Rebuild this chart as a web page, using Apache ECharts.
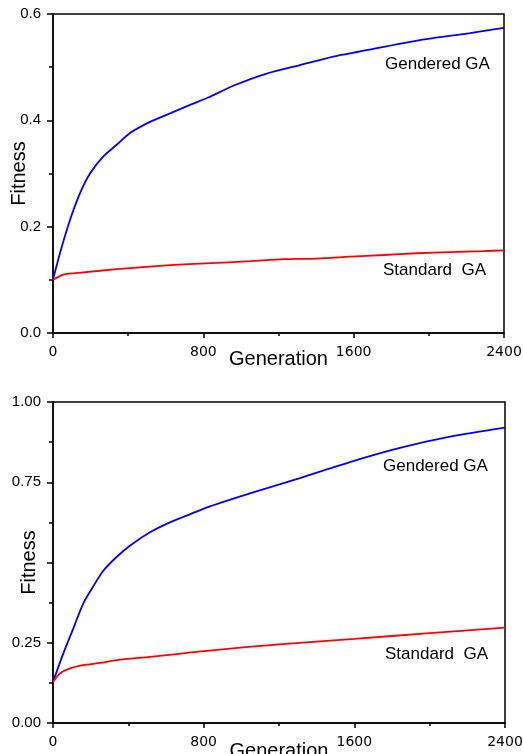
<!DOCTYPE html>
<html>
<head>
<meta charset="utf-8">
<script src="https://cdn.jsdelivr.net/npm/echarts@6/dist/echarts.min.js"></script>
<style>
html,body{margin:0;padding:0;background:#fff;}
#main{width:523px;height:754px;}
</style>
</head>
<body>
<div id="main"></div>
<script>
// top panel: generation / fitness
var topGenderedGen = [0, 37, 90, 144, 197, 268, 339, 410, 516, 623, 729, 826, 959, 1137, 1314, 1491, 1625, 1953, 2219, 2400];
var topGenderedFit = [0.100, 0.150, 0.212, 0.263, 0.300, 0.332, 0.354, 0.376, 0.397, 0.413, 0.429, 0.443, 0.465, 0.488, 0.504, 0.520, 0.529, 0.551, 0.564, 0.574];
var topStandardGen = [0, 55, 161, 339, 516, 693, 871, 1048, 1225, 1403, 1580, 1758, 1935, 2113, 2290, 2400];
var topStandardFit = [0.100, 0.110, 0.114, 0.120, 0.125, 0.129, 0.132, 0.135, 0.139, 0.140, 0.1435, 0.1467, 0.150, 0.152, 0.154, 0.1555];

// bottom panel
var botGenderedGen = [0, 55, 108, 161, 214, 268, 339, 410, 515, 621, 727, 834, 1050, 1311, 1577, 1842, 2108, 2400];
var botGenderedFit = [0.128, 0.217, 0.295, 0.373, 0.426, 0.475, 0.518, 0.553, 0.594, 0.625, 0.650, 0.675, 0.716, 0.763, 0.813, 0.857, 0.892, 0.920];
var botStandardGen = [0, 37, 90, 161, 250, 339, 516, 693, 817, 1200, 1600, 2000, 2400];
var botStandardFit = [0.128, 0.154, 0.170, 0.180, 0.187, 0.196, 0.206, 0.217, 0.225, 0.245, 0.262, 0.280, 0.297];

var xTicks = [0, 800, 1600, 2400];
var topYTicks = [0, 0.2, 0.4, 0.6];
var botYTicks = [0, 0.25, 0.5, 0.75, 1];

var FONT = "'Liberation Sans', Arial, sans-serif";

function pairs(xs, ys){
    var out = [];
    for(var i=0;i<xs.length;i++){
        out.push([xs[i], ys[i]]);
    }
    return out;
}

function xAxisOpt(idx, gap){
    return {
        type: 'value',
        gridIndex: idx,
        min: xTicks[0],
        max: xTicks[xTicks.length-1],
        interval: 800,
        name: 'Generation',
        nameLocation: 'middle',
        nameGap: gap,
        nameMoveOverlap: false,
        nameTextStyle: {color:'#000', fontSize:20, fontFamily:FONT},
        axisLine: {show:true, onZero:false, lineStyle:{color:'#000', width:1.5}},
        axisTick: {show:true, inside:false, length:5, lineStyle:{color:'#000', width:1.5}},
        minorTick: {show:true, splitNumber:2, length:3, lineStyle:{color:'#000', width:1.5}},
        splitLine: {show:false},
        axisLabel: {
            color:'#000', fontSize:14, fontFamily:"'DejaVu Sans', sans-serif", margin:12,
            hideOverlap: false,
            alignMinLabel: 'center',
            alignMaxLabel: 'center',
            formatter: function(v){ return String(v); }
        }
    };
}

function yAxisOpt(idx, ticks, step, digits, gap, hideVal){
    return {
        type: 'value',
        gridIndex: idx,
        min: ticks[0],
        max: ticks[ticks.length-1],
        interval: step,
        name: 'Fitness',
        nameLocation: 'middle',
        nameGap: gap,
        nameRotate: 90,
        nameMoveOverlap: false,
        nameTextStyle: {color:'#000', fontSize:20, fontFamily:FONT},
        axisLine: {show:true, lineStyle:{color:'#000', width:1.5}},
        axisTick: {show:true, inside:false, length:6, lineStyle:{color:'#000', width:1.5}},
        minorTick: {show:true, splitNumber:2, length:4, lineStyle:{color:'#000', width:1.5}},
        splitLine: {show:false},
        axisLabel: {
            color:'#000', fontSize:15, fontFamily:FONT, margin:12,
            formatter: function(v){
                if(hideVal !== null && Math.abs(v-hideVal) < 1e-9){
                    return '';
                }
                return v.toFixed(digits);
            }
        }
    };
}

function lineSeries(xi, yi, data, color){
    return {
        type: 'line',
        xAxisIndex: xi,
        yAxisIndex: yi,
        data: data,
        showSymbol: false,
        smooth: 0.25,
        animation: false,
        lineStyle: {color: color, width: 1.8},
        itemStyle: {color: color}
    };
}

var myChart = echarts.init(document.getElementById('main'));
var option = {
    animation: false,
    backgroundColor: '#fff',
    grid: [
        {left:53, top:14, width:451, height:319, outerBoundsMode:'none', containLabel:false, show:true, borderColor:'#000', borderWidth:1.5, backgroundColor:'transparent'},
        {left:53, top:402, width:452, height:321, outerBoundsMode:'none', containLabel:false, show:true, borderColor:'#000', borderWidth:1.5, backgroundColor:'transparent'}
    ],
    xAxis: [xAxisOpt(0, 16), xAxisOpt(1, 18)],
    yAxis: [
        yAxisOpt(0, topYTicks, 0.2, 1, 24, null),
        yAxisOpt(1, botYTicks, 0.25, 2, 14, 0.5)
    ],
    series: [
        lineSeries(0, 0, pairs(topGenderedGen, topGenderedFit), '#0000ff'),
        lineSeries(0, 0, pairs(topStandardGen, topStandardFit), '#ff0000'),
        lineSeries(1, 1, pairs(botGenderedGen, botGenderedFit), '#0000ff'),
        lineSeries(1, 1, pairs(botStandardGen, botStandardFit), '#ff0000')
    ],
    graphic: [
        {type:'text', left:385, top:56, style:{text:'Gendered GA', fill:'#000', font:'17px ' + FONT}},
        {type:'text', left:383, top:262, style:{text:'Standard  GA', fill:'#000', font:'17px ' + FONT}},
        {type:'text', left:383, top:458, style:{text:'Gendered GA', fill:'#000', font:'17px ' + FONT}},
        {type:'text', left:385, top:646, style:{text:'Standard  GA', fill:'#000', font:'17px ' + FONT}}
    ]
};
myChart.setOption(option);
</script>
</body>
</html>
